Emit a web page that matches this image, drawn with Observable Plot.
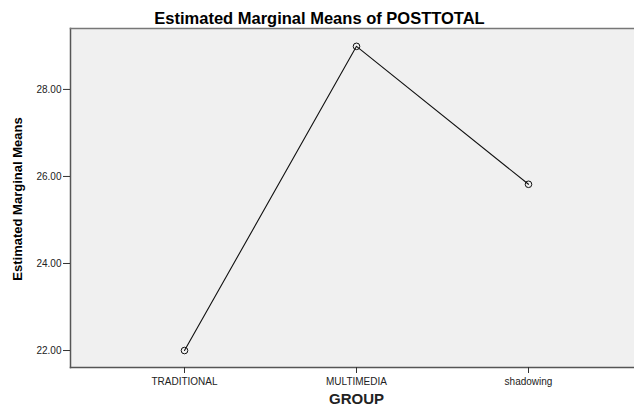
<!DOCTYPE html>
<html>
<head>
<meta charset="utf-8">
<script src="https://cdn.jsdelivr.net/npm/d3@7"></script>
<script src="https://cdn.jsdelivr.net/npm/@observablehq/plot@0.6"></script>
<style>
  body { margin: 0; background: white; }
</style>
</head>
<body>
<div id="chart"></div>
<script>
const groups = ["TRADITIONAL", "MULTIMEDIA", "shadowing"];
const means = [22.00, 28.99, 25.82];
const yTicks = [22, 24, 26, 28];
const title = "Estimated Marginal Means of POSTTOTAL";
const xTitle = "GROUP";
const yTitle = "Estimated Marginal Means";

const data = groups.map((g, i) => ({group: g, mean: means[i]}));
const font = "'Liberation Sans', Arial, sans-serif";

const chart = Plot.plot({
  width: 634,
  height: 407,
  marginLeft: 70,
  marginRight: 0,
  marginTop: 28,
  marginBottom: 40,
  style: {fontFamily: font, background: "white", color: "#222"},
  x: {type: "point", domain: groups, range: [184, 528], padding: 0},
  y: {domain: [21.61, 29.40]},
  marks: [
    Plot.frame({fill: "#f0f0f0", stroke: null}),
    Plot.frame({anchor: "left", stroke: "#555", strokeWidth: 1.5}),
    Plot.frame({anchor: "top", stroke: "#777", strokeWidth: 1.5}),
    Plot.frame({anchor: "bottom", stroke: "#555", strokeWidth: 1.5}),
    Plot.axisY(yTicks, {tickFormat: d => d.toFixed(2), tickSize: 7, tickPadding: 2, fontSize: 10, label: null, stroke: "#333"}),
    Plot.axisX({tickSize: 6, tickPadding: 4, fontSize: 10, label: null, stroke: "#333"}),
    Plot.line(data, {x: "group", y: "mean", stroke: "#111", strokeWidth: 1.1}),
    Plot.dot(data, {x: "group", y: "mean", r: 3.3, stroke: "#111", fill: "none", strokeWidth: 1}),
    Plot.text([title], {frameAnchor: "top", lineAnchor: "bottom", dy: -5, dx: -33, fontSize: 16.5, fontWeight: "bold", fill: "#000"}),
    Plot.text([yTitle], {frameAnchor: "left", textAnchor: "middle", rotate: -90, dx: -53, dy: 1, fontSize: 13, fontWeight: "bold", fill: "#000"}),
    Plot.text([xTitle], {frameAnchor: "bottom", lineAnchor: "bottom", dy: 36, dx: 4, fontSize: 15, fontWeight: "bold", fill: "#222"})
  ]
});
document.getElementById("chart").append(chart);
</script>
</body>
</html>
